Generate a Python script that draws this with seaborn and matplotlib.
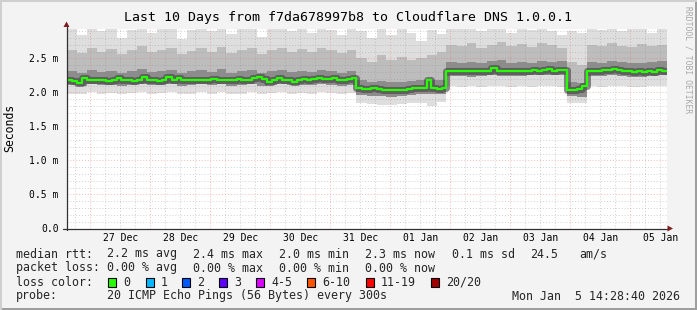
import numpy as np
import pandas as pd
import matplotlib
matplotlib.use("Agg")
import matplotlib.pyplot as plt
import seaborn as sns
from matplotlib.patches import Rectangle, Polygon

# ---------------- data ----------------
# time axis: days since 2025-12-26 00:00; graph covers Dec 26 14:28:40 -> Jan 5 14:28:40
start_day = (14 + 28 / 60 + 40 / 3600) / 24
date_labels = ["27 Dec", "28 Dec", "29 Dec", "30 Dec", "31 Dec",
               "01 Jan", "02 Jan", "03 Jan", "04 Jan", "05 Jan"]
label_days = [1.5, 2.5, 3.5, 4.5, 5.5, 6.5, 7.5, 8.5, 9.5, 10.5]
midnight_days = [1, 2, 3, 4, 5, 6, 7, 8, 9, 10]

# median RTT in ms, one value every 2 hours (120 values)
median_rtt = [
    2.19, 2.17, 2.14, 2.21, 2.19, 2.18, 2.19, 2.18, 2.17, 2.19,
    2.21, 2.19, 2.18, 2.17, 2.19, 2.22, 2.19, 2.18, 2.17, 2.19,
    2.22, 2.19, 2.21, 2.19, 2.18, 2.19, 2.18, 2.18, 2.19, 2.20,
    2.19, 2.18, 2.19, 2.18, 2.20, 2.19, 2.19, 2.21, 2.22, 2.20,
    2.16, 2.19, 2.21, 2.19, 2.19, 2.16, 2.19, 2.20, 2.19, 2.20,
    2.21, 2.20, 2.20, 2.21, 2.19, 2.19, 2.20, 2.21, 2.07, 2.05,
    2.05, 2.07, 2.05, 2.04, 2.04, 2.03, 2.04, 2.04, 2.05, 2.06,
    2.06, 2.07, 2.18, 2.06, 2.05, 2.07, 2.31, 2.32, 2.31, 2.31,
    2.32, 2.31, 2.32, 2.31, 2.32, 2.36, 2.32, 2.32, 2.31, 2.31,
    2.32, 2.31, 2.32, 2.33, 2.32, 2.33, 2.34, 2.32, 2.33, 2.33,
    2.04, 2.03, 2.05, 2.10, 2.31, 2.32, 2.32, 2.33, 2.33, 2.34,
    2.33, 2.32, 2.32, 2.30, 2.31, 2.30, 2.31, 2.30, 2.33, 2.32,
]

# smoke (ping spread) in ms, one value every 4 hours (60 values)
smoke_max = [
    2.93, 2.85, 2.95, 2.90, 2.94, 2.80, 2.92, 2.95, 2.88, 2.93,
    2.95, 2.78, 2.92, 2.95, 2.90, 2.95, 2.86, 2.94, 2.95, 2.82,
    2.93, 2.95, 2.90, 2.94, 2.88, 2.95, 2.92, 2.84, 2.94,
    2.90, 2.80, 2.93, 2.85, 2.95, 2.88, 2.75, 2.92, 2.86,
    2.95, 2.93, 2.95, 2.90, 2.95, 2.94, 2.88, 2.95, 2.92, 2.95, 2.90, 2.85,
    2.90, 2.88,
    2.95, 2.92, 2.95, 2.90, 2.94, 2.95, 2.88, 2.93,
]
smoke_p85 = [
    2.62, 2.58, 2.66, 2.60, 2.64, 2.57, 2.62, 2.68, 2.59, 2.63,
    2.66, 2.56, 2.61, 2.65, 2.60, 2.67, 2.58, 2.62, 2.66, 2.57,
    2.63, 2.65, 2.60, 2.64, 2.59, 2.66, 2.62, 2.58, 2.63,
    2.50, 2.45, 2.55, 2.48, 2.52, 2.47, 2.50, 2.55, 2.60,
    2.70, 2.68, 2.72, 2.66, 2.70, 2.74, 2.69, 2.71, 2.67, 2.72, 2.70, 2.66,
    2.45, 2.40,
    2.70, 2.68, 2.72, 2.69, 2.67, 2.71, 2.68, 2.70,
]
smoke_p65 = [
    2.31, 2.29, 2.33, 2.30, 2.32, 2.28, 2.31, 2.34, 2.30, 2.32,
    2.33, 2.28, 2.31, 2.33, 2.30, 2.34, 2.29, 2.31, 2.33, 2.29,
    2.32, 2.33, 2.30, 2.32, 2.30, 2.33, 2.31, 2.29, 2.32,
    2.18, 2.16, 2.17, 2.15, 2.16, 2.17, 2.18, 2.19, 2.18,
    2.45, 2.44, 2.45, 2.43, 2.46, 2.47, 2.44, 2.45, 2.44, 2.46, 2.45, 2.46,
    2.15, 2.14,
    2.45, 2.44, 2.46, 2.45, 2.43, 2.44, 2.45, 2.46,
]
smoke_p35 = [
    2.11, 2.10, 2.12, 2.11, 2.11, 2.10, 2.11, 2.12, 2.11, 2.11,
    2.12, 2.10, 2.11, 2.12, 2.11, 2.12, 2.10, 2.11, 2.12, 2.10,
    2.11, 2.12, 2.11, 2.11, 2.11, 2.12, 2.11, 2.10, 2.11,
    1.96, 1.95, 1.95, 1.94, 1.95, 1.96, 1.97, 1.97, 1.97,
    2.24, 2.24, 2.23, 2.24, 2.25, 2.24, 2.24, 2.24, 2.25, 2.25, 2.25, 2.25,
    1.95, 1.94,
    2.24, 2.24, 2.25, 2.24, 2.23, 2.23, 2.24, 2.25,
]
smoke_min = [
    1.98, 1.97, 2.00, 1.98, 1.99, 1.97, 1.99, 2.00, 1.98, 1.99,
    2.00, 1.97, 1.98, 2.00, 1.98, 2.01, 1.97, 1.98, 2.00, 1.97,
    1.99, 2.00, 1.98, 1.99, 1.98, 2.00, 1.99, 1.97, 1.99,
    1.84, 1.83, 1.82, 1.82, 1.83, 1.84, 1.85, 1.80, 1.86,
    2.09, 2.08, 2.09, 2.08, 2.10, 2.09, 2.08, 2.09, 2.08, 2.10, 2.09, 2.08,
    1.85, 1.84,
    2.09, 2.08, 2.10, 2.09, 2.08, 2.08, 2.09, 2.10,
]

y_ticks = [0.0, 0.5, 1.0, 1.5, 2.0, 2.5]
y_tick_labels = ["0.0", "0.5 m", "1.0 m", "1.5 m", "2.0 m", "2.5 m"]

loss_labels = ["0", "1", "2", "3", "4-5", "6-10", "11-19", "20/20"]
loss_colors = ["#26ff00", "#00b8ff", "#0059ff", "#5e00ff", "#dd00ff",
               "#ff5500", "#ff0000", "#a10000"]

# ---------------- build frames ----------------
end_day = start_day + 10
med_x = start_day + np.arange(len(median_rtt) + 1) / 12.0
med_df = pd.DataFrame({"day": med_x, "median": median_rtt + [median_rtt[-1]]})
smoke_x = start_day + np.arange(len(smoke_max) + 1) / 6.0


def ext(a):
    return np.array(a + [a[-1]])


# ---------------- figure ----------------
W, H = 697, 310
sns.set_theme(style="white")
plt.rcParams["font.family"] = ["DejaVu Sans Mono", "DejaVu Sans"]

fig = plt.figure(figsize=(W / 100, H / 100), dpi=100, facecolor="#f3f3f3")


def fx(px):
    return px / W


def fy(py):
    return 1 - py / H


# 3D frame shades
fig.patches.append(Rectangle((0, 0), 1, 2 / H, transform=fig.transFigure,
                             facecolor="#9e9e9e", edgecolor="none", zorder=0))
fig.patches.append(Rectangle((fx(W - 2), 0), fx(2), 1, transform=fig.transFigure,
                             facecolor="#9e9e9e", edgecolor="none", zorder=0))
fig.patches.append(Rectangle((0, 0), fx(2), 1, transform=fig.transFigure,
                             facecolor="#cfcfcf", edgecolor="none", zorder=0))
fig.patches.append(Rectangle((0, fy(2)), 1, 2 / H, transform=fig.transFigure,
                             facecolor="#cfcfcf", edgecolor="none", zorder=0))

Y_MAX = 2.94
ax = fig.add_axes([fx(66.5), (H - 228.5) / H, 600 / W, 200 / H])
ax.set_facecolor("white")
for sp in ax.spines.values():
    sp.set_visible(False)
ax.set_xlim(start_day, end_day)
ax.set_ylim(0, Y_MAX)

# smoke layers
ax.fill_between(smoke_x, ext(smoke_min), ext(smoke_max), step="post",
                color="#dedede", lw=0, zorder=1)
ax.fill_between(smoke_x, ext(smoke_p35), ext(smoke_p85), step="post",
                color="#bdbdbd", lw=0, zorder=1)
ax.fill_between(smoke_x, ext(smoke_p35), ext(smoke_p65), step="post",
                color="#8c8c8c", lw=0, zorder=1)

# grid
minor_x = [k * 0.25 for k in range(0, 48) if k % 4 != 0 and start_day < k * 0.25 < end_day]
minor_y = [k / 10 for k in range(1, 30) if k % 5 != 0 and k / 10 < Y_MAX]
grid_c = (0.55, 0.55, 0.55, 0.4)
mgrid_c = (0.9, 0.4, 0.4, 0.45)
ax.vlines(minor_x, 0, Y_MAX, colors=[grid_c], linestyles=(0, (1, 2)), lw=0.7, zorder=3)
ax.hlines(minor_y, start_day, end_day, colors=[grid_c], linestyles=(0, (1, 2)), lw=0.7, zorder=3)
ax.vlines(midnight_days, 0, Y_MAX, colors=[mgrid_c], linestyles=(0, (1, 2)), lw=0.7, zorder=3)
ax.hlines(y_ticks[1:], start_day, end_day, colors=[mgrid_c], linestyles=(0, (1, 2)), lw=0.7, zorder=3)

# median line (dark core + green line)
sns.lineplot(data=med_df, x="day", y="median", drawstyle="steps-post",
             color="#404040", lw=5.0, alpha=0.6, ax=ax, zorder=4)
sns.lineplot(data=med_df, x="day", y="median", drawstyle="steps-post",
             color="#26ff00", lw=1.6, ax=ax, zorder=5)
ax.set_xlabel("")
ax.set_ylabel("")

# ticks
ax.set_xticks(label_days, labels=date_labels)
ax.set_yticks(y_ticks, labels=y_tick_labels)
ax.tick_params(axis="x", length=0, pad=3.5, labelsize=7, labelcolor="black")
ax.tick_params(axis="y", length=2, width=0.7, color="#555555", pad=3.5,
               labelsize=7, labelcolor="black")

# axes lines with arrows
axis_c = "#303030"
arrow_c = "#7f1f1f"
fig.add_artist(plt.Line2D([fx(66.5), fx(66.5)], [fy(229.5), fy(27)],
                          transform=fig.transFigure, color=axis_c, lw=0.9))
fig.add_artist(plt.Line2D([fx(63), fx(668)], [fy(228.5), fy(228.5)],
                          transform=fig.transFigure, color=axis_c, lw=0.9))
fig.patches.append(Polygon([(fx(66.5), fy(21.5)), (fx(63.5), fy(27)), (fx(69.5), fy(27))],
                           closed=True, transform=fig.transFigure,
                           facecolor=arrow_c, edgecolor="none", zorder=6))
fig.patches.append(Polygon([(fx(673), fy(228.5)), (fx(667.5), fy(225.5)), (fx(667.5), fy(231.5))],
                           closed=True, transform=fig.transFigure,
                           facecolor=arrow_c, edgecolor="none", zorder=6))

# title and axis label
fig.text(fx(348), fy(18), "Last 10 Days from f7da678997b8 to Cloudflare DNS 1.0.0.1",
         ha="center", va="center", fontsize=9.5, color="black")
fig.text(fx(10), fy(128), "Seconds", rotation=90, ha="center", va="center",
         fontsize=8.3, color="black")
fig.text(fx(688), fy(60), "RRDTOOL / TOBI OETIKER", rotation=270, ha="center",
         va="center", fontsize=5.8, color="#a8a8a8")

# legend rows
fs = 8.35
row_y = [254, 268, 282, 296]
row1 = [(16, "median rtt:"), (107, "2.2 ms avg"), (193, "2.4 ms max"), (279, "2.0 ms min"),
        (365, "2.3 ms now"), (452, "0.1 ms sd"), (530, "24.5"), (579, "am/s")]
row2 = [(16, "packet loss:"), (107, "0.00 % avg"), (193, "0.00 % max"),
        (279, "0.00 % min"), (365, "0.00 % now")]
for x, t in row1:
    fig.text(fx(x), fy(row_y[0]), t, ha="left", va="center", fontsize=fs)
for x, t in row2:
    fig.text(fx(x), fy(row_y[1]), t, ha="left", va="center", fontsize=fs)

fig.text(fx(16), fy(row_y[2]), "loss color:", ha="left", va="center", fontsize=fs)
box_x = [108, 146, 182, 219, 256, 307, 366, 431]
for bx, lab, col in zip(box_x, loss_labels, loss_colors):
    fig.patches.append(Rectangle((fx(bx), fy(row_y[2] + 4.5)), fx(8), 8.5 / H,
                                 transform=fig.transFigure, facecolor=col,
                                 edgecolor="black", lw=0.8, zorder=5))
    fig.text(fx(bx + 15), fy(row_y[2]), lab, ha="left", va="center", fontsize=fs)

fig.text(fx(16), fy(row_y[3]), "probe:", ha="left", va="center", fontsize=fs)
fig.text(fx(107), fy(row_y[3]), "20 ICMP Echo Pings (56 Bytes) every 300s",
         ha="left", va="center", fontsize=fs)
fig.text(fx(680), fy(row_y[3]), "Mon Jan  5 14:28:40 2026", ha="right",
         va="center", fontsize=fs)

fig.savefig("out.png", dpi=100, facecolor=fig.get_facecolor())
